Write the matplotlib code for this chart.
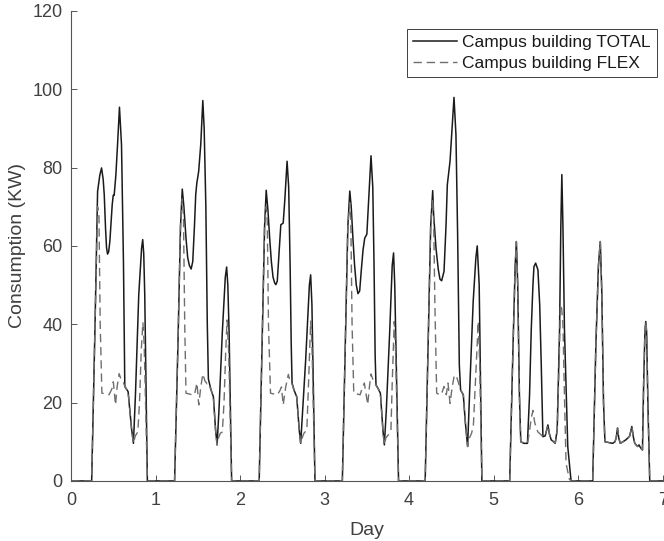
import matplotlib
matplotlib.use("Agg")
import matplotlib.pyplot as plt

# time in days, consumption in kW
total_t = [
    0.0, 0.244, 0.283, 0.314, 0.340, 0.361, 0.380, 0.393, 0.408, 0.420, 0.432, 0.445, 0.459, 0.487, 0.499, 0.510, 0.530, 0.550, 0.573, 0.597, 0.620, 0.636, 0.675, 0.715, 0.738, 0.762, 0.801, 0.835, 0.848, 0.860, 0.872, 0.903,
    1.225, 1.265, 1.295, 1.316, 1.335, 1.360, 1.380, 1.400, 1.421, 1.440, 1.460, 1.475, 1.488, 1.510, 1.535, 1.559, 1.575, 1.595, 1.612, 1.625, 1.657, 1.684, 1.710, 1.728, 1.750, 1.790, 1.825, 1.841, 1.855, 1.870, 1.900,
    2.226, 2.260, 2.290, 2.309, 2.330, 2.350, 2.370, 2.390, 2.410, 2.423, 2.440, 2.460, 2.482, 2.510, 2.530, 2.556, 2.575, 2.592, 2.605, 2.615, 2.638, 2.670, 2.700, 2.717, 2.740, 2.776, 2.820, 2.835, 2.850, 2.886,
    3.210, 3.245, 3.275, 3.298, 3.315, 3.335, 3.355, 3.375, 3.395, 3.415, 3.435, 3.455, 3.475, 3.500, 3.525, 3.549, 3.570, 3.585, 3.598, 3.608, 3.635, 3.660, 3.690, 3.707, 3.730, 3.770, 3.800, 3.816, 3.830, 3.875,
    4.190, 4.225, 4.255, 4.279, 4.290, 4.318, 4.345, 4.365, 4.385, 4.413, 4.437, 4.452, 4.484, 4.515, 4.531, 4.554, 4.574, 4.594, 4.609, 4.641, 4.665, 4.692, 4.719, 4.758, 4.790, 4.806, 4.829, 4.845, 4.861,
    5.190, 5.230, 5.255, 5.269, 5.285, 5.305, 5.321, 5.360, 5.400, 5.425, 5.445, 5.465, 5.477, 5.497, 5.524, 5.545, 5.563, 5.583, 5.610, 5.642, 5.660, 5.681, 5.710, 5.728, 5.752, 5.780, 5.795, 5.807, 5.820, 5.838, 5.877, 5.916,
    6.172, 6.210, 6.240, 6.262, 6.280, 6.300, 6.317, 6.360, 6.408, 6.435, 6.450, 6.466, 6.480, 6.498, 6.530, 6.564, 6.590, 6.610, 6.635, 6.655, 6.670, 6.702, 6.720, 6.740, 6.761, 6.775, 6.790, 6.800, 6.810, 6.825, 6.847, 7.0,
]
total_v = [
    0, 0, 39, 73.9, 78, 79.9, 77, 73, 64.5, 59.5, 57.9, 58.5, 61.1, 70.5, 72.9, 72.9, 78, 85.8, 95.4, 85.8, 56, 24.1, 22.8, 13.5, 9.6, 22, 47.5, 59.5, 61.6, 58, 47.5, 0,
    0, 35, 65, 74.5, 70, 62, 57, 55, 54.1, 56, 65, 73, 76, 79, 86, 97.1, 90, 70, 40, 26, 23.2, 21.5, 13, 9.2, 18, 38, 52, 54.6, 50, 38, 0,
    0, 35, 65, 74.2, 69, 62, 56, 52, 50.5, 50.1, 51, 58, 65.4, 65.8, 72, 81.6, 75, 55, 35, 25, 23.2, 21.5, 13, 9.6, 18, 30.9, 50, 52.6, 45, 0,
    0, 35, 65, 74, 70, 62, 55, 50, 47.8, 48.5, 54, 59, 62, 63, 73, 83, 75, 55, 32, 24.5, 23.5, 22.4, 13, 9.2, 18, 38, 55, 58.2, 50, 0,
    0, 35, 65, 74.1, 68, 59.4, 54, 51.5, 51.1, 53.5, 65.4, 75.6, 81.6, 92.6, 97.9, 88.4, 62.8, 29.6, 23.2, 22, 15, 8.8, 24.5, 45.8, 57, 60, 50, 24.5, 0,
    0, 35, 55, 61.1, 50, 22, 10, 9.6, 9.6, 22, 38.6, 50, 54.7, 55.6, 53.9, 45, 30, 11.3, 11.5, 14.3, 12, 10.5, 10, 9.6, 13, 38.6, 65, 78.2, 65, 38.6, 8.8, 0,
    0, 35, 55, 61.1, 48, 20, 10, 9.8, 9.6, 10, 11, 13.5, 11, 9.6, 10, 10.5, 11, 11.5, 13.9, 11, 9.6, 8.8, 9.2, 8.4, 7.9, 25, 38, 40.7, 38, 20, 0, 0,
]

flex_t = [
    0.0, 0.244, 0.283, 0.314, 0.330, 0.345, 0.365, 0.420, 0.450, 0.483, 0.500, 0.526, 0.545, 0.569, 0.590, 0.616, 0.636, 0.675, 0.715, 0.738, 0.760, 0.790, 0.810, 0.830, 0.850, 0.865, 0.903,
    1.225, 1.265, 1.295, 1.316, 1.330, 1.345, 1.360, 1.400, 1.430, 1.460, 1.490, 1.511, 1.535, 1.559, 1.585, 1.610, 1.625, 1.657, 1.684, 1.710, 1.728, 1.745, 1.767, 1.790, 1.810, 1.830, 1.846, 1.865, 1.900,
    2.226, 2.260, 2.290, 2.309, 2.322, 2.336, 2.360, 2.400, 2.440, 2.470, 2.490, 2.510, 2.540, 2.571, 2.590, 2.611, 2.638, 2.670, 2.700, 2.717, 2.735, 2.756, 2.790, 2.810, 2.835, 2.850, 2.886,
    3.210, 3.245, 3.275, 3.298, 3.310, 3.325, 3.345, 3.380, 3.420, 3.450, 3.470, 3.510, 3.530, 3.549, 3.570, 3.595, 3.608, 3.635, 3.660, 3.690, 3.707, 3.725, 3.770, 3.785, 3.800, 3.824, 3.840, 3.875,
    4.190, 4.225, 4.255, 4.279, 4.290, 4.305, 4.326, 4.345, 4.380, 4.413, 4.440, 4.460, 4.484, 4.510, 4.535, 4.562, 4.585, 4.609, 4.641, 4.665, 4.692, 4.715, 4.739, 4.760, 4.790, 4.818, 4.835, 4.861,
    5.190, 5.230, 5.255, 5.269, 5.285, 5.305, 5.321, 5.360, 5.400, 5.420, 5.445, 5.465, 5.485, 5.505, 5.524, 5.550, 5.583, 5.610, 5.642, 5.660, 5.681, 5.710, 5.728, 5.752, 5.775, 5.790, 5.805, 5.820, 5.838, 5.857, 5.895, 5.916,
    6.172, 6.210, 6.240, 6.262, 6.280, 6.300, 6.317, 6.360, 6.408, 6.435, 6.450, 6.466, 6.480, 6.498, 6.530, 6.564, 6.590, 6.610, 6.635, 6.655, 6.670, 6.702, 6.720, 6.740, 6.761, 6.775, 6.790, 6.800, 6.810, 6.825, 6.847, 7.0,
]
flex_v = [
    0, 0, 39, 70, 68, 40, 22.4, 22.2, 22, 23.5, 25.3, 19.4, 24, 27.4, 26, 25.4, 24.1, 22.8, 13.5, 9.6, 11.5, 12.5, 20, 33, 40.5, 35, 0,
    0, 35, 65, 72, 68, 40, 22.4, 22.2, 22, 22, 25, 19.4, 24, 27.3, 25.5, 24.8, 25, 23.2, 21.5, 13, 9.2, 11, 12.2, 12.5, 20, 33, 41.1, 33, 0,
    0, 35, 65, 70, 66, 40, 22.4, 22.2, 22, 23, 24, 19.4, 24, 27.2, 25.5, 25, 23.2, 21.5, 13, 9.6, 11, 12.2, 13, 25, 40.8, 35, 0,
    0, 35, 65, 71, 67, 40, 22.4, 22.2, 22, 24, 25, 19.5, 24, 27.3, 26, 25, 24.5, 23.5, 22.4, 13, 9.2, 11, 12.2, 13, 25, 40.7, 33, 0,
    0, 35, 65, 72, 67, 45, 22.4, 22.2, 22, 24.1, 22, 25, 19.8, 24, 27, 26.6, 25, 23.2, 22, 15, 8.8, 11, 12.2, 14, 28, 40.7, 30, 0,
    0, 35, 55, 61.1, 50, 22, 10, 9.6, 9.6, 12, 16, 18, 15, 13.5, 12.5, 12, 11.3, 11.5, 14.3, 12, 10.5, 10, 9.6, 13, 30, 45, 44, 40, 21.5, 4.5, 0.5, 0,
    0, 35, 55, 61.1, 48, 20, 10, 9.8, 9.6, 10, 11, 13.5, 11, 9.6, 10, 10.5, 11, 11.5, 13.9, 11, 9.6, 8.8, 9.2, 8.4, 7.9, 25, 38, 40.7, 38, 20, 0, 0,
]

x_ticks = [0, 1, 2, 3, 4, 5, 6, 7]
y_ticks = [0, 20, 40, 60, 80, 100, 120]

plt.rcParams['font.family'] = ['Liberation Sans', 'DejaVu Sans']

fig = plt.figure(figsize=(6.64, 5.41), dpi=100)
ax = fig.add_axes([0.107, 0.111, 0.891, 0.869])

ax.plot(total_t, total_v, color='#1a1a1a', lw=1.1, label='Campus building TOTAL')
ax.plot(flex_t, flex_v, color='#6e6e6e', lw=1.0, dashes=(6, 3.5), label='Campus building FLEX')

ax.set_xlim(0, 7)
ax.set_ylim(0, 120)
ax.set_xticks(x_ticks)
ax.set_yticks(y_ticks)

for side in ['top', 'right']:
    ax.spines[side].set_visible(False)
for side in ['left', 'bottom']:
    ax.spines[side].set_color('#555555')
    ax.spines[side].set_linewidth(0.8)

ax.tick_params(direction='in', length=4.5, width=0.7, color='#555555',
               labelcolor='#404040', labelsize=13)
ax.tick_params(axis='x', pad=8)
ax.tick_params(axis='y', pad=6)

ax.set_xlabel('Day', fontsize=14, color='#404040', labelpad=9)
ax.set_ylabel('Consumption (KW)', fontsize=14, color='#404040', labelpad=5)

leg = ax.legend(loc='upper right', bbox_to_anchor=(0.99, 0.962), borderaxespad=0,
                fontsize=12.5, fancybox=False, framealpha=1, handlelength=2.5,
                handletextpad=0.3, borderpad=0.35, labelspacing=0.35)
leg.get_frame().set_edgecolor('#404040')
leg.get_frame().set_linewidth(0.7)
for txt in leg.get_texts():
    txt.set_color('#1a1a1a')

fig.savefig('out.png', dpi=100)
